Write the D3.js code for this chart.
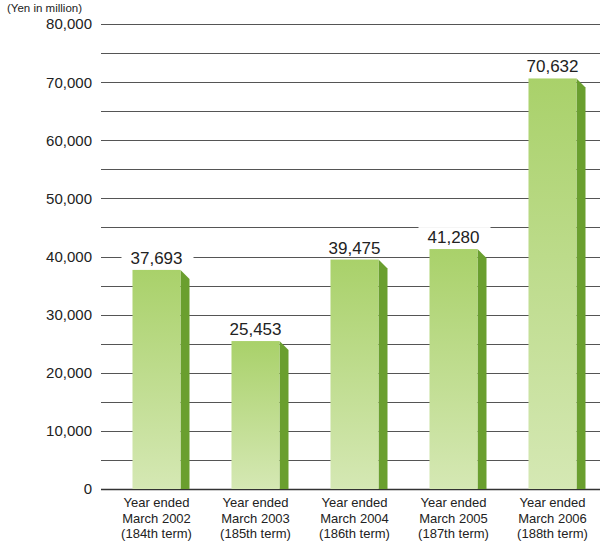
<!DOCTYPE html>
<html><head><meta charset="utf-8">
<script src="https://cdn.jsdelivr.net/npm/d3@7"></script>
<style>body{margin:0;background:#fff}svg{display:block}text{font-family:"Liberation Sans",Arial,sans-serif}</style>
</head><body><svg id="c" width="604" height="546"></svg>
<script>
const categories = [
  ["Year ended","March 2002","(184th term)"],
  ["Year ended","March 2003","(185th term)"],
  ["Year ended","March 2004","(186th term)"],
  ["Year ended","March 2005","(187th term)"],
  ["Year ended","March 2006","(188th term)"]
];
const values = [37693, 25453, 39475, 41280, 70632];
const valueLabels = ["37,693","25,453","39,475","41,280","70,632"];
const gridValues = d3.range(0, 80001, 5000);
const tickValues = [0,10000,20000,30000,40000,50000,60000,70000,80000];
const unitLabel = "(Yen in million)";

const svg = d3.select("#c");
const y = d3.scaleLinear().domain([0,80000]).range([489,24]);
const x = d3.scaleBand().domain(d3.range(values.length)).range([107,602]).paddingInner(0.515).paddingOuter(0.2575);
const depth = 9;

const defs = svg.append("defs");
const g = defs.append("linearGradient").attr("id","front").attr("x1",0).attr("y1",0).attr("x2",0).attr("y2",1);
g.append("stop").attr("offset","0%").attr("stop-color","#a9d16a");
g.append("stop").attr("offset","100%").attr("stop-color","#d5e8b4");

// gridlines
svg.append("g").selectAll("line").data(gridValues).join("line")
  .attr("x1",101).attr("x2",600)
  .attr("y1",d=>Math.round(y(d))+0.5).attr("y2",d=>Math.round(y(d))+0.5)
  .attr("stroke",d=>d===0?"#333":"#555").attr("stroke-width",d=>d===0?1.5:1);

// y tick labels
svg.append("g").selectAll("text").data(tickValues).join("text")
  .attr("x",92).attr("y",d=>y(d)).attr("dy","0.36em")
  .attr("text-anchor","end").attr("font-size",15).attr("fill","#222")
  .text(d=>d3.format(",")(d));

svg.append("text").attr("x",7).attr("y",12).attr("font-size",11.5).attr("fill","#222").text(unitLabel);

// bars
const bars = svg.append("g").selectAll("g").data(values).join("g");
bars.append("path")
  .attr("d",(d,i)=>{const x1=x(i)+x.bandwidth(), t=y(d), b=y(0);
    return `M${x1},${t} L${x1+depth},${t+depth} L${x1+depth},${b} L${x1},${b} Z`;})
  .attr("fill","#6a9f2f");
bars.append("rect")
  .attr("x",(d,i)=>x(i)).attr("y",d=>y(d))
  .attr("width",x.bandwidth()).attr("height",d=>y(0)-y(d))
  .attr("fill","url(#front)");

// value labels
const vl = svg.append("g").selectAll("g").data(values).join("g");
vl.append("rect")
  .attr("x",(d,i)=>x(i)+x.bandwidth()/2-35).attr("y",d=>y(d)-22)
  .attr("width",72).attr("height",19).attr("fill","#fff");
vl.append("text")
  .attr("x",(d,i)=>x(i)+x.bandwidth()/2).attr("y",d=>y(d)-6)
  .attr("text-anchor","middle").attr("font-size",17).attr("fill","#222")
  .text((d,i)=>valueLabels[i]);

// category labels
const cl = svg.append("g").selectAll("text").data(categories).join("text")
  .attr("text-anchor","middle").attr("font-size",13).attr("fill","#222");
cl.each(function(lines,i){
  const t = d3.select(this);
  lines.forEach((s,j)=>{
    t.append("tspan").attr("x",x(i)+x.bandwidth()/2).attr("y",507+j*15.7).text(s);
  });
});
</script></body></html>
